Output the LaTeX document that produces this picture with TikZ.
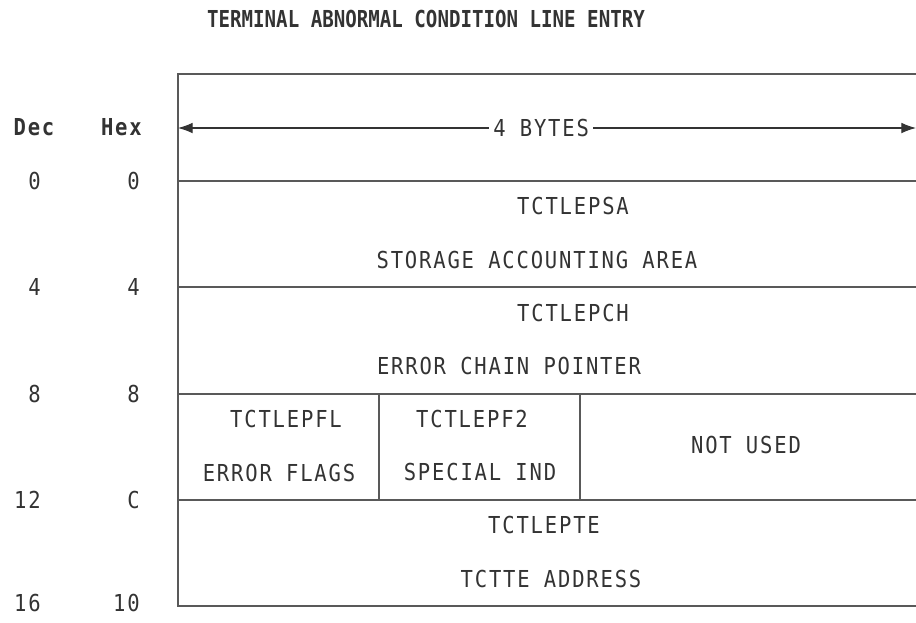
\documentclass[tikz,border=0pt]{standalone}
\usepackage{fontspec}
\newfontfamily\fieldfont{DejaVu Sans Mono}[FakeStretch=0.88,LetterSpace=7.8]
\newfontfamily\titlefont{DejaVu Sans Mono}[FakeStretch=0.82]
\usetikzlibrary{arrows.meta}
\definecolor{inkgray}{gray}{0.2}
\definecolor{rulegray}{gray}{0.35}
\tikzset{
  field/.style={font=\fieldfont\fontsize{17.5}{20}\selectfont, text=inkgray, inner sep=0pt},
  offs/.style={field, anchor=east},
  rule/.style={draw=rulegray, line width=1.1pt}
}
\begin{document}
\begin{tikzpicture}[x=0.75pt,y=-0.75pt]
    \useasboundingbox (0,0) rectangle (916,622);
    \node[font=\titlefont\bfseries\fontsize{17.5}{20}\selectfont, text=inkgray, inner sep=0pt] (title) at (426,19.5) {TERMINAL ABNORMAL CONDITION LINE ENTRY};
    \node[field, font=\fieldfont\bfseries\fontsize{17.5}{20}\selectfont] (dec) at (34,127) {Dec};
    \node[offs, font=\fieldfont\bfseries\fontsize{17.5}{20}\selectfont] (hex) at (142,127) {Hex};
    \foreach \d/\h/\y in {0/0/181, 4/4/287, 8/8/394, 12/C/500, 16/10/603} {
        \node[offs] (dec\d) at (41,\y) {\d};
        \node[offs] (hex\d) at (140,\y) {\h};
    }
    \draw[rule] (178,74) rectangle (920,606);
    \foreach \y in {181, 287, 394, 500}
        \draw[rule] (178,\y) -- (920,\y);
    \draw[rule] (379,394) -- (379,500);
    \draw[rule] (580,394) -- (580,500);
    \coordinate (wl) at (178,128);
    \coordinate (wr) at (916,128);
    \draw[black!80, line width=0.8pt, {Latex[length=11pt,width=8pt]}-{Latex[length=11pt,width=8pt]}] (wl) -- (wr) node[pos=0.492, field, fill=white, inner xsep=3pt] (width) {4 BYTES};
    \node[field] (psa) at (573,206) {TCTLEPSA};
    \node[field] (psadesc) at (537,260) {STORAGE ACCOUNTING AREA};
    \node[field] (pch) at (573,313) {TCTLEPCH};
    \node[field] (pchdesc) at (509,366) {ERROR CHAIN POINTER};
    \node[field] (pfl) at (286,419) {TCTLEPFL};
    \node[field] (pfldesc) at (279,473) {ERROR FLAGS};
    \node[field] (pf2) at (472,419) {TCTLEPF2};
    \node[field] (pf2desc) at (480,472) {SPECIAL IND};
    \node[field] (unused) at (746,445) {NOT USED};
    \node[field] (pte) at (544,525) {TCTLEPTE};
    \node[field] (ptedesc) at (551,579) {TCTTE ADDRESS};
\end{tikzpicture}
\end{document}
